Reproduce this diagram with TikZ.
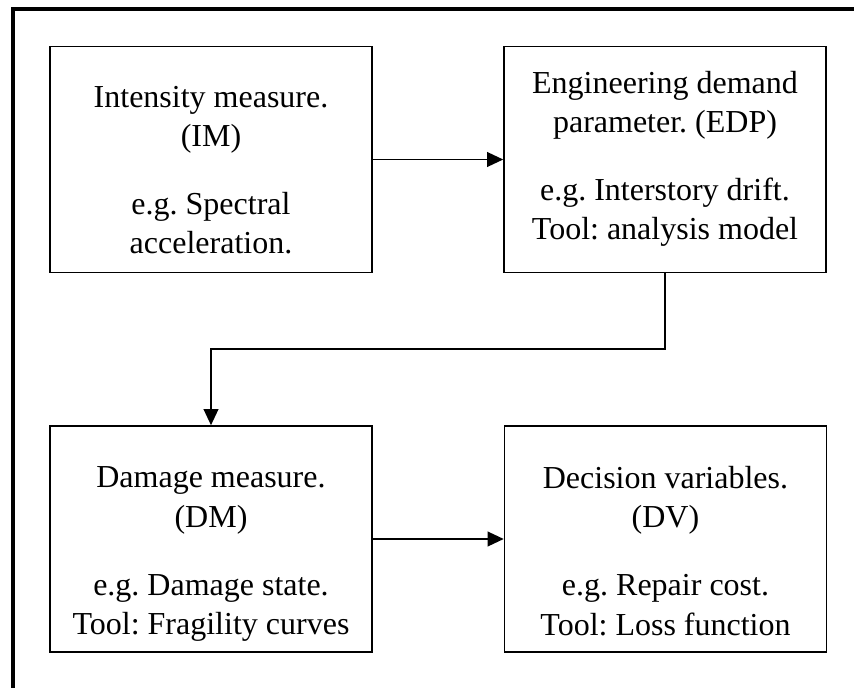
\documentclass[tikz,border=0pt]{standalone}
\usepackage{fontspec}
\setmainfont{Liberation Serif}
\usetikzlibrary{arrows.meta}
\frenchspacing
\begin{document}
\begin{tikzpicture}[x=0.75pt,y=-0.75pt,
  stage/.style={draw,line width=1.2pt,minimum width=241.5pt,minimum height=169.5pt,inner sep=0pt},
  stagetext/.style={inner sep=0pt,align=center,font=\fontsize{24}{29.5}\selectfont},
  flow/.style={line width=1.2pt,-{Triangle[length=12pt,width=11pt]}}]
\useasboundingbox (0,0) rectangle (854,688);
% outer frame, open at right and bottom
\draw[line width=3pt,line join=miter] (13,688) -- (13,9) -- (854,9);
% the four stages
\node[stage] (im) at (211,159.5) {};
\node[stage] (edp) at (665,159.5) {};
\node[stage] (dm) at (211,539) {};
\node[stage] (dv) at (665.5,539) {};
% their texts
\node[stagetext] (imt) at (211,170) {Intensity measure.\\(IM)\\[21.5pt]e.g. Spectral\\acceleration.};
\node[stagetext] (edpt) at (665,159) {Engineering demand\\parameter. (EDP)\\[21.5pt]e.g. Interstory drift.\\Tool: analysis model};
\node[stagetext] (dmt) at (211,554) {Damage measure.\\(DM)\\[21.5pt]e.g. Damage state.\\Tool: Fragility curves};
\node[stagetext] (dvt) at (665.5,551) {Decision variables.\\(DV)\\[21.5pt]e.g. Repair cost.\\Tool: Loss function};
% connectors
\coordinate (bend) at (665,349);
\draw[flow] (im.east) -- (edp.west);
\draw[flow] (edp.south) -- (edp.south |- bend) -| (dm.north);
\draw[flow] (dm.east) -- (dv.west);
\end{tikzpicture}
\end{document}
